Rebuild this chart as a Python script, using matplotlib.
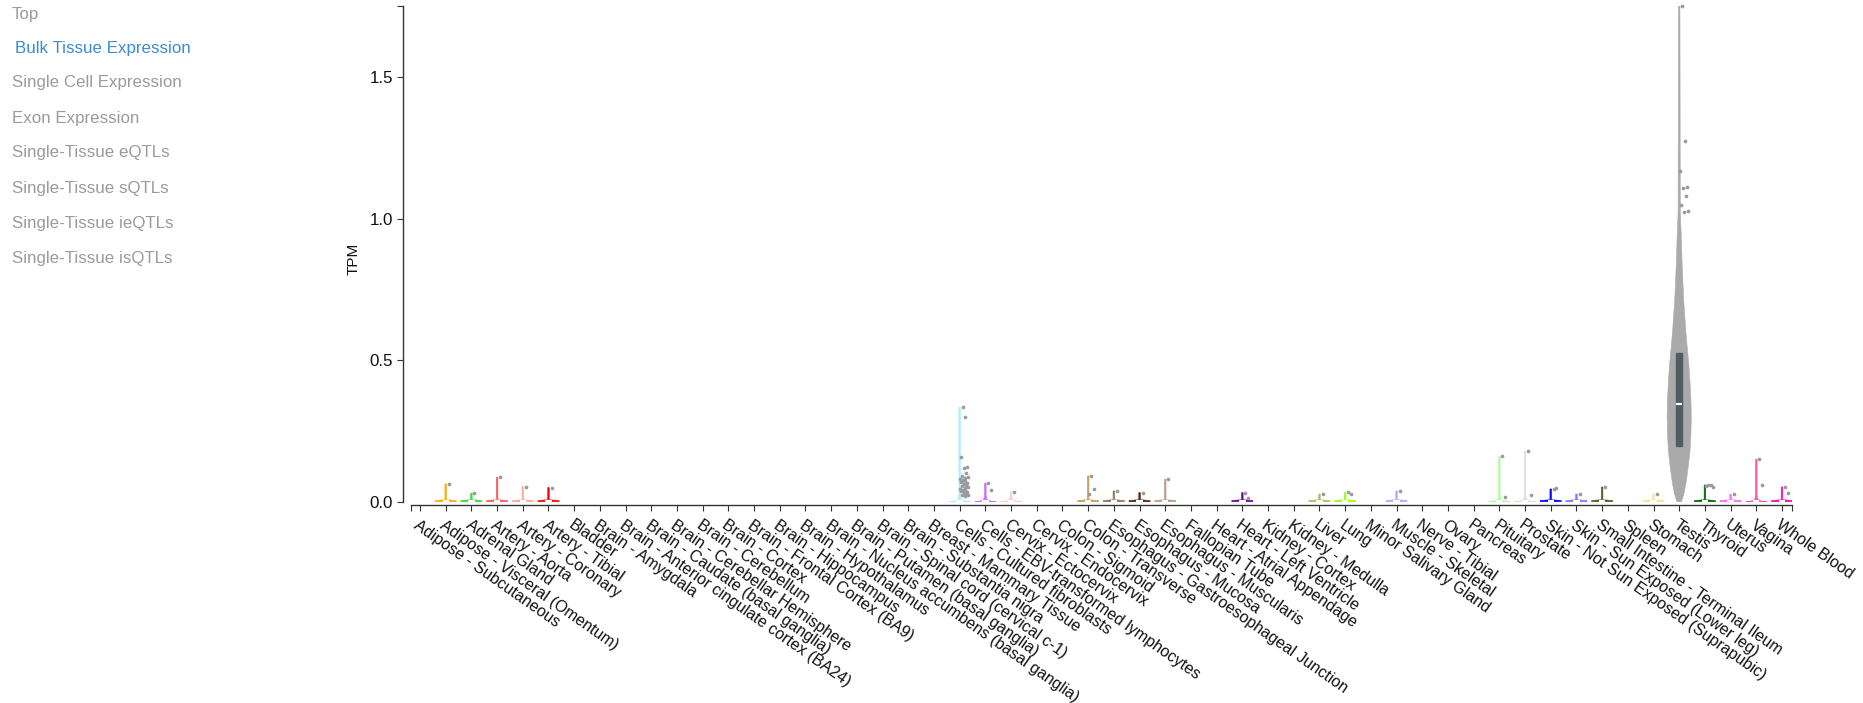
import matplotlib
matplotlib.use('Agg')
import matplotlib.pyplot as plt
import numpy as np

plt.rcParams['font.family'] = ['Liberation Sans', 'DejaVu Sans']

# Data: GTEx bulk tissue expression (TPM)
tissues = ['Adipose - Subcutaneous', 'Adipose - Visceral (Omentum)', 'Adrenal Gland',
           'Artery - Aorta', 'Artery - Coronary', 'Artery - Tibial', 'Bladder',
           'Brain - Amygdala', 'Brain - Anterior cingulate cortex (BA24)',
           'Brain - Caudate (basal ganglia)', 'Brain - Cerebellar Hemisphere',
           'Brain - Cerebellum', 'Brain - Cortex', 'Brain - Frontal Cortex (BA9)',
           'Brain - Hippocampus', 'Brain - Hypothalamus',
           'Brain - Nucleus accumbens (basal ganglia)', 'Brain - Putamen (basal ganglia)',
           'Brain - Spinal cord (cervical c-1)', 'Brain - Substantia nigra',
           'Breast - Mammary Tissue', 'Cells - Cultured fibroblasts',
           'Cells - EBV-transformed lymphocytes', 'Cervix - Ectocervix',
           'Cervix - Endocervix', 'Colon - Sigmoid', 'Colon - Transverse',
           'Esophagus - Gastroesophageal Junction', 'Esophagus - Mucosa',
           'Esophagus - Muscularis', 'Fallopian Tube', 'Heart - Atrial Appendage',
           'Heart - Left Ventricle', 'Kidney - Cortex', 'Kidney - Medulla', 'Liver',
           'Lung', 'Minor Salivary Gland', 'Muscle - Skeletal', 'Nerve - Tibial',
           'Ovary', 'Pancreas', 'Pituitary', 'Prostate',
           'Skin - Not Sun Exposed (Suprapubic)', 'Skin - Sun Exposed (Lower leg)',
           'Small Intestine - Terminal Ileum', 'Spleen', 'Stomach', 'Testis',
           'Thyroid', 'Uterus', 'Vagina', 'Whole Blood']

colors = ['#FF6600', '#FFAA00', '#33DD33', '#FF5555', '#FFAA99', '#FF0000', '#AA0000',
          '#EEEE00', '#EEEE00', '#EEEE00', '#EEEE00', '#EEEE00', '#EEEE00', '#EEEE00',
          '#EEEE00', '#EEEE00', '#EEEE00', '#EEEE00', '#EEEE00', '#EEEE00',
          '#33CCCC', '#AAEEFF', '#CC66FF', '#FFCCCC', '#CCAADD', '#EEBB77', '#CC9955',
          '#8B7355', '#552200', '#BB9988', '#FFCCCC', '#9900FF', '#660099', '#22FFDD',
          '#33FFC2', '#AABB66', '#99FF00', '#99BB88', '#AAAAFF', '#FFD700', '#FFAAFF',
          '#995522', '#AAFF99', '#DDDDDD', '#0000FF', '#7777FF', '#555522', '#778855',
          '#FFDD99', '#AAAAAA', '#006600', '#FF66FF', '#FF5599', '#FF00BB']

# top of the violin (max TPM); None = no violin drawn
vmax = [None, 0.063, 0.030, 0.086, 0.053, 0.050, None,
        None, None, None, None, None, None, None, None, None, None, None, None, None,
        None, 0.333, 0.066, 0.035, None, None, 0.091, 0.038, 0.032, 0.080, None, None,
        0.032, None, None, 0.027, 0.033, None, 0.038, None, None, None, 0.160, 0.178,
        0.045, 0.027, 0.052, None, 0.027, 1.751, 0.059, 0.026, 0.150, 0.052]

# height (TPM) of the wide base of the small violins
base_h = [0, 0.007, 0.007, 0.007, 0.007, 0.007, 0,
          0, 0, 0, 0, 0, 0, 0, 0, 0, 0, 0, 0, 0,
          0, 0.022, 0.02, 0.02, 0, 0, 0.007, 0.007, 0.007, 0.007, 0, 0,
          0.007, 0, 0, 0.007, 0.007, 0, 0.007, 0, 0, 0, 0.02, 0.02,
          0.007, 0.007, 0.007, 0, 0.007, 0, 0.007, 0.007, 0.02, 0.007]

outliers = [[], [0.063], [0.030], [0.086], [0.053], [0.050], [],
            [], [], [], [], [], [], [], [], [], [], [], [], [],
            [],
            [0.333, 0.300, 0.159, 0.124, 0.118, 0.100, 0.092, 0.088, 0.084, 0.080, 0.076,
             0.072, 0.068, 0.065, 0.062, 0.058, 0.055, 0.052, 0.049, 0.046, 0.043, 0.040,
             0.037, 0.034, 0.031, 0.028, 0.025, 0.022, 0.019],
            [0.066, 0.041], [0.035], [], [], [0.091, 0.045, 0.027], [0.038], [0.032],
            [0.080], [], [], [0.032, 0.013], [], [], [0.027], [0.033, 0.028], [], [0.038],
            [], [], [], [0.160, 0.017], [0.178, 0.022], [0.045, 0.047], [0.027], [0.052],
            [], [0.027],
            [1.751, 1.274, 1.170, 1.113, 1.107, 1.080, 1.048, 1.028, 1.025],
            [0.060, 0.058, 0.055, 0.053], [0.026], [0.150, 0.059], [0.052, 0.030]]

# Testis violin outline: TPM level vs relative width
testis_tpm = [0.0, 0.03, 0.065, 0.124, 0.183, 0.242, 0.30, 0.36, 0.418, 0.477,
              0.595, 0.713, 0.83, 0.948, 1.02, 1.751]
testis_w = [0.19, 0.40, 0.56, 0.75, 0.90, 0.97, 1.0, 0.97, 0.90, 0.81,
            0.56, 0.37, 0.25, 0.16, 0.09, 0.06]
testis_box = (0.197, 0.347, 0.527)  # q1, median, q3

nav_items = ['Top', 'Bulk Tissue Expression', 'Single Cell Expression', 'Exon Expression',
             'Single-Tissue eQTLs', 'Single-Tissue sQTLs', 'Single-Tissue ieQTLs',
             'Single-Tissue isQTLs']

W, H = 1863, 703
fig = plt.figure(figsize=(W / 100, H / 100), dpi=100)
ax = fig.add_axes([411 / W, 1 - 501.7 / H, 1381 / W, 495.7 / H])

HALF = 0.41     # half width of a small violin (x units)
HALF_T = 0.47   # half width of the testis violin
THIN = 0.03     # half width of the thin spike
BOXW = 0.123
leg_frac = [0.0, 0.08, 0.2, 0.4, 0.7, 1.0]
leg_w = [1.0, 0.6, 0.35, 0.18, 0.1, THIN / HALF]
jit = [0.12, 0.22, 0.05, 0.30, 0.16, 0.26, 0.08, 0.34, 0.19, 0.02]


def draw_violin(x, ys, ws, c, half):
    ys = np.asarray(ys)
    ws = np.asarray(ws) * half
    px = np.concatenate([x - ws, (x + ws)[::-1]])
    py = np.concatenate([ys, ys[::-1]])
    ax.fill(px, py, color=c, lw=0.4, ec=c, zorder=2)


for i, t in enumerate(tissues):
    if vmax[i] is None:
        continue
    if t == 'Testis':
        draw_violin(i, testis_tpm, testis_w, colors[i], HALF_T)
        q1, med, q3 = testis_box
        ax.add_patch(plt.Rectangle((i - BOXW, q1), 2 * BOXW, q3 - q1, color='#505c5e', zorder=3))
        ax.plot([i - BOXW, i + BOXW], [med, med], color='white', lw=1.6, zorder=4,
                solid_capstyle='butt')
    else:
        if base_h[i] > 0.01:
            ys = [f * base_h[i] for f in leg_frac] + [vmax[i]]
            ws = leg_w + [THIN / HALF]
        else:
            ys = [0, base_h[i] * 0.6, base_h[i], vmax[i]]
            ws = [1.0, 1.0, THIN / HALF, THIN / HALF]
        draw_violin(i, ys, ws, colors[i], HALF)
        ax.plot([i - BOXW, i + BOXW], [0.001, 0.001], color='white', lw=1.6, zorder=4,
                solid_capstyle='butt')
    pts = outliers[i]
    ax.scatter([i + jit[k % len(jit)] for k in range(len(pts))], pts, s=7,
               color='#9a9a9a', lw=0, zorder=5, clip_on=False)

xmin, xmax = -0.350, 53.389
ymax = 1.752
ax.set_xlim(xmin, xmax)
ax.set_ylim(0, ymax)

for s in ['top', 'right']:
    ax.spines[s].set_visible(False)
ax.spines['left'].set_position(('outward', 5.8))
ax.spines['bottom'].set_position(('outward', 2.7))
for s in ['left', 'bottom']:
    ax.spines[s].set_color('#333333')
    ax.spines[s].set_linewidth(1.0)

ax.set_xticks(range(len(tissues)))
ax.set_xticklabels(tissues, rotation=-35, ha='left', va='top', rotation_mode='anchor')
ax.set_xticks([xmin, xmax], minor=True)
ax.set_yticks([0, 0.5, 1.0, 1.5])
ax.set_yticklabels(['0.0', '0.5', '1.0', '1.5'])
ax.set_yticks([ymax], minor=True)
ax.tick_params(which='both', direction='out', length=4.6, width=0.8, color='#333333',
               labelsize=11.5, labelcolor='#111111')
ax.tick_params(axis='x', which='major', pad=4)
ax.tick_params(axis='y', which='major', pad=2.5, labelsize=12.2)
ax.tick_params(axis='both', which='minor', labelleft=False, labelbottom=False)

fig.text(354 / W, 1 - 259 / H, 'TPM', rotation=90, ha='center', va='center',
         fontsize=11, color='#111111')

nav_y = [14, 49, 83, 118, 153, 188, 223, 258]
for k, (lab, y) in enumerate(zip(nav_items, nav_y)):
    active = lab == 'Bulk Tissue Expression'
    fig.text((15 if active else 12) / W, 1 - y / H, lab, ha='left', va='center',
             fontsize=12.2, color='#3d8bd3' if active else '#9b9b9b')

fig.savefig('out.png', dpi=100)
